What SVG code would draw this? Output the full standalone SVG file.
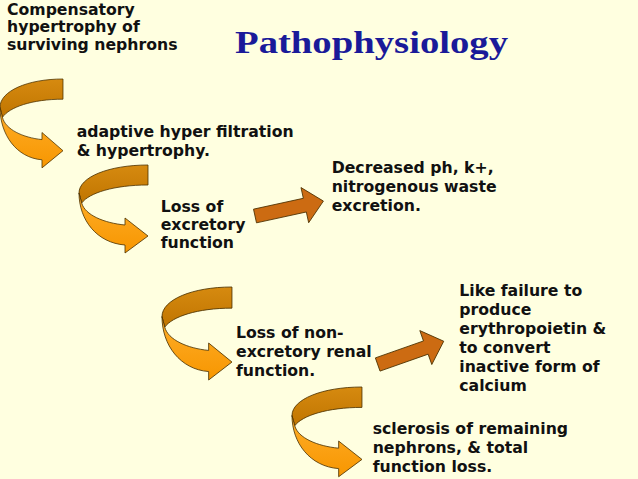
<svg xmlns="http://www.w3.org/2000/svg" xmlns:xlink="http://www.w3.org/1999/xlink" width="638" height="479" viewBox="0 0 638 479">
<style>
.t{font-family:"DejaVu Sans","Verdana",sans-serif;font-weight:bold;font-size:15.7px;fill:#111}
.title{font-family:"Liberation Serif","Times New Roman",serif;font-weight:bold;font-size:31px;fill:#1a1a99}
.ol{stroke:#4a3000;stroke-width:0.8;stroke-linejoin:round}
.sa{fill:#CC6B12}
</style>
<defs>
<linearGradient id="gDark" x1="0" y1="0" x2="0" y2="1">
<stop offset="0" stop-color="#D68A10"/>
<stop offset="1" stop-color="#C07500"/>
</linearGradient>
<linearGradient id="gLight" x1="0" y1="0" x2="0" y2="1">
<stop offset="0" stop-color="#FFAE2A"/>
<stop offset="1" stop-color="#F79600"/>
</linearGradient>
<g id="curved">
<path class="ol" fill="url(#gDark)" d="M69,0 C30,0 0,12 0,28 L2.7,38 C10,28 35,20 69,20 Z"/>
<path class="ol" fill="url(#gLight)" d="M0,28 C0,55 18,78 46,80 L46,88 L69,71 L46,53 L46,60 C25,58 6,50 2.7,38 Z"/>
</g>
<path id="straight" d="M0,-7 L51,-7 L51,-18 L70,0 L51,18 L51,7 L0,7 Z"/>
</defs>
<rect width="638" height="479" fill="#FFFFE0"/>
<g id="connectors">
<use xlink:href="#curved" href="#curved" transform="translate(0,79) scale(0.913,1.01)"/>
<use xlink:href="#curved" href="#curved" transform="translate(79,165)"/>
<use xlink:href="#curved" href="#curved" transform="translate(162,287) scale(1.014,1.057)"/>
<use xlink:href="#curved" href="#curved" transform="translate(292,387) scale(1.014,1.02)"/>
<use xlink:href="#straight" href="#straight" class="sa ol" transform="translate(255,216) rotate(-12.3)"/>
<use xlink:href="#straight" href="#straight" class="sa ol" transform="translate(377.7,364.5) rotate(-19.4)"/>
</g>
<g id="title"><text class="title" x="235" y="53" textLength="273" lengthAdjust="spacingAndGlyphs">Pathophysiology</text></g>
<g id="n1"><text class="t" x="7" y="14.5">Compensatory</text><text class="t" x="7" y="32.2">hypertrophy of</text><text class="t" x="7" y="50">surviving nephrons</text></g>
<g id="n2"><text class="t" x="76.7" y="136.7">adaptive hyper filtration</text><text class="t" x="76.7" y="155.7">&amp; hypertrophy.</text></g>
<g id="n3"><text class="t" x="160.7" y="211.5">Loss of</text><text class="t" x="160.7" y="229.5">excretory</text><text class="t" x="160.7" y="247.7">function</text></g>
<g id="n4"><text class="t" x="331.7" y="172.7">Decreased ph, k+,</text><text class="t" x="331.7" y="191.7">nitrogenous waste</text><text class="t" x="331.7" y="211.2">excretion.</text></g>
<g id="n5"><text class="t" x="236" y="338.3">Loss of non-</text><text class="t" x="236" y="357.3">excretory renal</text><text class="t" x="236" y="375.7">function.</text></g>
<g id="n6"><text class="t" x="459.3" y="296">Like failure to</text><text class="t" x="459.3" y="315">produce</text><text class="t" x="459.3" y="334">erythropoietin &amp;</text><text class="t" x="459.3" y="352.7">to convert</text><text class="t" x="459.3" y="371.7">inactive form of</text><text class="t" x="459.3" y="390.7">calcium</text></g>
<g id="n7"><text class="t" x="372.7" y="434.3">sclerosis of remaining</text><text class="t" x="372.7" y="453.3">nephrons, &amp; total</text><text class="t" x="372.7" y="472.3">function loss.</text></g>
</svg>
